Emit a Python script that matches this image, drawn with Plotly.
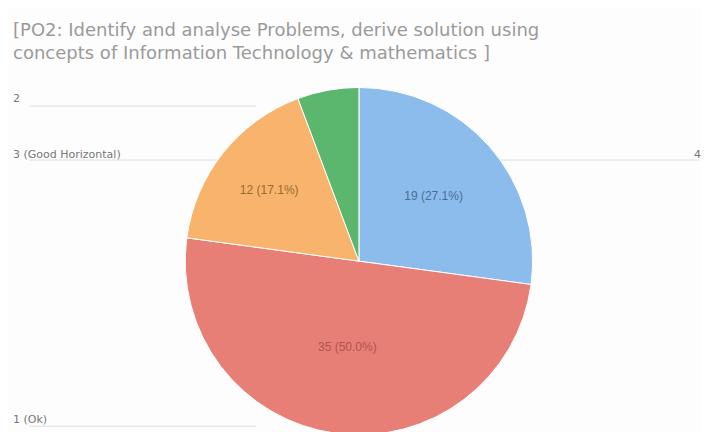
import plotly.graph_objects as go

# slice values (clockwise from 12 o'clock)
labels = ["4", "1 (Ok)", "3 (Good Horizontal)", "2"]
values = [19, 35, 12, 4]
colors = ["#8cbcec", "#e87f76", "#f8b46c", "#5cb76e"]
text_colors = ["#4a6d96", "#b0544d", "#9a6a30", "#2f6b3c"]

title_lines = [
    "[PO2: Identify and analyse Problems, derive solution using",
    "concepts of Information Technology & mathematics ]",
]

total = sum(values)
slice_text = [f"{v} ({v / total * 100:.1f}%)" if v / total > 0.1 else "" for v in values]

fig = go.Figure(go.Pie(
    labels=labels,
    values=values,
    sort=False,
    direction="clockwise",
    rotation=0,
    marker=dict(colors=colors, line=dict(color="#ffffff", width=1)),
    text=slice_text,
    textinfo="text",
    textposition="inside",
    insidetextorientation="horizontal",
    textfont=dict(family="Liberation Sans", size=12, color=text_colors),
    domain=dict(x=[0.25, 0.74], y=[0.01, 0.818]),
    showlegend=False,
    hoverinfo="label+value+percent",
))

# faint guide lines and category labels behind the pie
guides = [("2", 0.79, 0.773, 0.35), ("3 (Good Horizontal)", 0.66, 0.648, 0.975), ("1 (Ok)", 0.048, 0.032, 0.35)]
for txt, ty, ly, x1 in guides:
    fig.add_annotation(text=txt, x=0.004, y=ty, xref="paper", yref="paper",
                       xanchor="left", yanchor="middle", showarrow=False,
                       font=dict(family="DejaVu Sans", size=11, color="#777777"))
    fig.add_shape(type="line", xref="paper", yref="paper", x0=0.03, x1=x1, y0=ly, y1=ly,
                  line=dict(color="#dddddd", width=1), layer="below")
fig.add_annotation(text="4", x=0.98, y=0.66, xref="paper", yref="paper",
                   xanchor="right", yanchor="middle", showarrow=False,
                   font=dict(family="DejaVu Sans", size=11, color="#777777"))

fig.add_annotation(text="<br>".join(title_lines), x=0.004, y=0.98, xref="paper", yref="paper",
                   xanchor="left", yanchor="top", align="left", showarrow=False,
                   font=dict(family="DejaVu Sans", size=18, color="#9a9a9a"))

fig.update_layout(
    width=709, height=432,
    margin=dict(l=0, r=0, t=0, b=0),
    paper_bgcolor="#fdfdfd",
    plot_bgcolor="#fdfdfd",
)

fig.write_html("out.html")
